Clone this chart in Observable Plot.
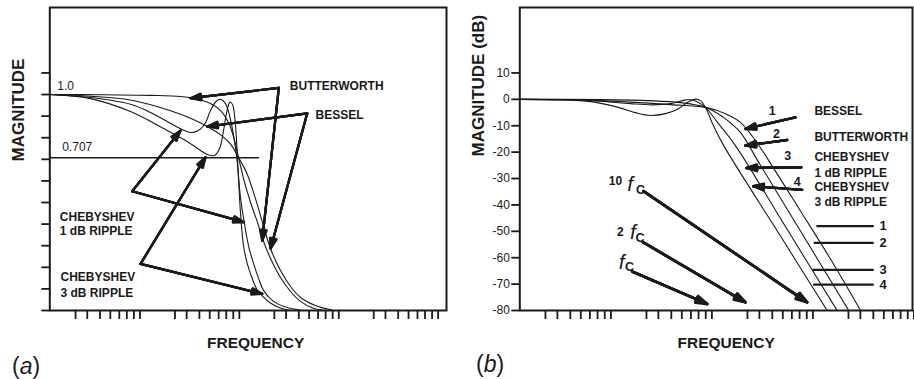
<!DOCTYPE html>
<html><head><meta charset="utf-8">
<script src="https://cdn.jsdelivr.net/npm/d3@7"></script>
<script src="https://cdn.jsdelivr.net/npm/@observablehq/plot@0.6"></script>
<style>
html,body{margin:0;padding:0;background:#fff;}
#wrap{position:relative;width:914px;height:379px;display:flex;font-family:"Liberation Sans",Arial,Helvetica,sans-serif;overflow:hidden;}
#wrap svg{display:block;flex:0 0 auto;}
.panel{position:absolute;font-size:23px;line-height:23px;color:#1a1a1a;}
</style></head><body>
<div id="wrap"></div>
<script>
// ---------- axes (x = log-frequency in decades; minor ticks as drawn) ----------
const decades = [0, 1, 2, 3];
const tickFrac = [0, 0.118, 0.246, 0.35, 0.44, 0.516, 0.587, 0.648];
const xTicks = decades.flatMap(d => tickFrac.map(f => d + f));
const magTicks = [0, 0.1, 0.2, 0.3, 0.4, 0.5, 0.6, 0.7, 0.8, 0.9, 1.0, 1.1];
const dbTicks = [10, 0, -10, -20, -30, -40, -50, -60, -70, -80];

// ---------- panel (a): linear magnitude ----------
const butterA = [[-0.262,1.0],[0.252,0.999],[0.755,0.996],[1.056,0.991],[1.207,0.981],[1.358,0.958],[1.459,0.926],[1.539,0.87],[1.6,0.787],[1.64,0.708],[1.69,0.611],[1.761,0.5],[1.831,0.407],[1.881,0.333],[1.962,0.241],[2.062,0.153],[2.163,0.088],[2.264,0.042],[2.384,0.012],[2.515,0]];
const besselA = [[-0.262,1.0],[0.151,0.992],[0.553,0.975],[0.956,0.925],[1.157,0.89],[1.325,0.852],[1.469,0.81],[1.56,0.77],[1.64,0.708],[1.72,0.639],[1.801,0.532],[1.881,0.407],[1.962,0.286],[2.062,0.185],[2.163,0.111],[2.264,0.06],[2.414,0.023],[2.596,0]];
const cheb1A = [[-0.262,1.0],[0.151,0.986],[0.553,0.955],[0.755,0.917],[0.976,0.861],[1.087,0.835],[1.157,0.824],[1.227,0.831],[1.298,0.861],[1.358,0.926],[1.419,0.97],[1.464,0.977],[1.509,0.958],[1.549,0.903],[1.59,0.81],[1.625,0.694],[1.66,0.52],[1.70,0.4],[1.745,0.29],[1.791,0.218],[1.84,0.15],[1.891,0.093],[1.982,0.046],[2.113,0.016],[2.284,0]];
const cheb3A = [[-0.262,1.0],[0.151,0.981],[0.553,0.921],[0.885,0.843],[1.107,0.787],[1.258,0.741],[1.338,0.72],[1.398,0.718],[1.449,0.75],[1.489,0.833],[1.524,0.926],[1.554,0.965],[1.579,0.954],[1.605,0.88],[1.625,0.741],[1.643,0.58],[1.66,0.449],[1.69,0.3],[1.727,0.218],[1.78,0.145],[1.828,0.095],[1.878,0.068],[1.96,0.035],[2.06,0.012],[2.163,0]];
const halfPower = 0.707;
const halfPowerSpan = [-0.262, 1.845];
const arrowsA = [
  {x1:2.045,y1:1.031,x2:1.157,y2:0.983},{x1:2.045,y1:1.031,x2:1.878,y2:0.324},
  {x1:2.331,y1:0.913,x2:1.325,y2:0.852},{x1:2.331,y1:0.913,x2:1.962,y2:0.286},
  {x1:0.570,y1:0.552,x2:1.056,y2:0.833},{x1:0.570,y1:0.552,x2:1.693,y2:0.409},
  {x1:0.654,y1:0.216,x2:1.308,y2:0.710},{x1:0.654,y1:0.216,x2:1.878,y2:0.077}
];
const namesA = [
  {x:2.156,y:1.038,text:"BUTTERWORTH"},{x:2.414,y:0.903,text:"BESSEL"},
  {x:-0.158,y:0.432,text:"CHEBYSHEV"},{x:-0.158,y:0.366,text:"1 dB RIPPLE"},
  {x:-0.151,y:0.154,text:"CHEBYSHEV"},{x:-0.151,y:0.082,text:"3 dB RIPPLE"}
];
const levelTextA = [{x:-0.184,y:1.037,text:"1.0"},{x:-0.134,y:0.756,text:"0.707"}];

// ---------- panel (b): magnitude in dB ----------
const besselB = [[-0.254,0],[0.347,-0.3],[0.842,-1.06],[1.238,-2.0],[1.584,-3.03],[1.782,-5.41],[1.931,-8.71],[2.079,-15.6],[2.277,-27.2],[2.525,-42.3],[2.822,-60.5],[3.12,-80]];
const butterB = [[-0.254,0],[0.545,-0.1],[1.04,-0.5],[1.337,-1.25],[1.584,-3.03],[1.752,-6.55],[1.84,-9.2],[1.931,-12.5],[2.129,-25.0],[2.525,-49.9],[3.003,-80]];
const cheb1B = [[-0.254,0],[0.248,-0.11],[0.545,-0.68],[0.842,-1.63],[1.059,-2.08],[1.238,-1.63],[1.356,-0.49],[1.416,-0.04],[1.485,-0.61],[1.584,-3.03],[1.713,-9.2],[1.881,-17.53],[2.376,-48.2],[2.888,-80]];
const cheb3B = [[-0.254,0],[0.149,-0.19],[0.446,-0.87],[0.693,-2.76],[0.891,-5.04],[1.04,-6.1],[1.188,-5.41],[1.317,-3.52],[1.416,-0.87],[1.485,0.08],[1.535,-0.49],[1.584,-3.03],[1.663,-9.96],[1.765,-17.53],[2.327,-51.8],[2.789,-80]];
const numArrowsB = [
  {x1:2.475,y1:-6.82,x2:1.98,y2:-11.2},{x1:2.393,y1:-15.4,x2:1.98,y2:-17.5},
  {x1:2.532,y1:-25.7,x2:1.99,y2:-26.0},{x1:2.541,y1:-34.3,x2:2.056,y2:-32.9}
];
const fcArrowsB = [
  {x1:0.970,y1:-34.8,x2:2.591,y2:-76.9},{x1:0.965,y1:-54.1,x2:1.98,y2:-76.9},
  {x1:0.858,y1:-65.2,x2:1.601,y2:-77.5}
];
const numTextB = [{x:2.245,y:-4.3,text:"1"},{x:2.287,y:-13.1,text:"2"},{x:2.399,y:-21.3,text:"3"},{x:2.492,y:-31.4,text:"4"}];
const namesB = [
  {x:2.663,y:-4.4,text:"BESSEL"},{x:2.663,y:-14.5,text:"BUTTERWORTH"},
  {x:2.663,y:-21.96,text:"CHEBYSHEV"},{x:2.663,y:-27.87,text:"1 dB RIPPLE"},
  {x:2.663,y:-33.32,text:"CHEBYSHEV"},{x:2.663,y:-39.0,text:"3 dB RIPPLE"}
];
const attenLevels = [-48.0, -54.4, -64.6, -70.2];
const attenStart = [2.683, 2.656, 2.644, 2.65];
const attenEnd = 3.25;
const attenLabels = ["1", "2", "3", "4"];
const attenLabelX = 3.342;
const fcMultipliers = [{x:0.693,y:-30.9,text:"10"},{x:0.741,y:-50.4,text:"2"}];
const fcF = [{x:0.838,y:-32.0},{x:0.866,y:-50.4},{x:0.754,y:-61.7}];
const fcSub = [{x:0.94,y:-34.2},{x:0.935,y:-52.6},{x:0.833,y:-63.5}];

// ---------- helpers ----------
const INK = "#1a1a1a";
const FONT = '"Liberation Sans", Arial, Helvetica, sans-serif';
const toRows = (series) => series.flatMap(([name, pts]) => pts.map(([f, v]) => ({name, f, v})));
function filledArrows(data, sw, len) {
  return [36, 27, 18, 9].map(a => Plot.arrow(data, {
    x1: "x1", y1: "y1", x2: "x2", y2: "y2",
    headAngle: a, headLength: len * 1.5 / sw, strokeWidth: sw, stroke: INK
  }));
}
const style = {fontFamily: FONT, fontSize: "12px", color: INK, background: "white", overflow: "visible"};

const tableA = toRows([["Butterworth", butterA], ["Bessel", besselA], ["Chebyshev 1 dB", cheb1A], ["Chebyshev 3 dB", cheb3A]]);
const tableB = toRows([["Bessel", besselB], ["Butterworth", butterB], ["Chebyshev 1 dB", cheb1B], ["Chebyshev 3 dB", cheb3B]]);

const left = Plot.plot({
  width: 460, height: 379,
  marginLeft: 49.3, marginRight: 14, marginTop: 7, marginBottom: 69,
  x: {domain: [-0.259, 3.732], label: null},
  y: {domain: [0, 1.403], label: null},
  style,
  marks: [
    Plot.axisY({ticks: magTicks, tickSize: 8, tickFormat: () => "", strokeWidth: 1.8, label: null}),
    Plot.axisX({ticks: xTicks, tickSize: 9, tickFormat: () => "", strokeWidth: 1.8, label: null}),
    Plot.frame({strokeWidth: 2, stroke: INK}),
    Plot.link([halfPower], {x1: () => halfPowerSpan[0], x2: () => halfPowerSpan[1], y1: d => d, y2: d => d, strokeWidth: 1.5, stroke: INK}),
    Plot.line(tableA, {x: "f", y: "v", z: "name", curve: "catmull-rom", strokeWidth: 1.1, stroke: INK, clip: true}),
    ...filledArrows(arrowsA, 2.2, 11),
    Plot.text(levelTextA, {x: "x", y: "y", text: "text", textAnchor: "start", fontSize: 12, fill: INK}),
    Plot.text(namesA, {x: "x", y: "y", text: "text", textAnchor: "start", fontSize: 12, fontWeight: "bold", fill: INK}),
    Plot.text(["MAGNITUDE"], {text: d => d, frameAnchor: "left", rotate: -90, dx: -30.8, dy: 2.5, fontSize: 17, fontWeight: "bold", fill: INK}),
    Plot.text(["FREQUENCY"], {text: d => d, frameAnchor: "bottom", dx: 7.5, dy: 37, fontSize: 15.5, fontWeight: "bold", fill: INK})
  ]
});

const attenRows = attenLevels.map((v, i) => ({y: v, x1: attenStart[i], x2: attenEnd, label: attenLabels[i], lx: attenLabelX}));

const right = Plot.plot({
  width: 454, height: 379,
  marginLeft: 59.3, marginRight: 2, marginTop: 7, marginBottom: 69,
  x: {domain: [-0.254, 3.634], label: null},
  y: {domain: [-80, 34.8], label: null},
  style,
  marks: [
    Plot.axisY({ticks: dbTicks, tickSize: 8, tickPadding: 2, tickFormat: d => String(d), strokeWidth: 1.8, fontSize: 12, label: null}),
    Plot.axisX({ticks: xTicks, tickSize: 9, tickFormat: () => "", strokeWidth: 1.8, label: null}),
    Plot.frame({strokeWidth: 2, stroke: INK}),
    Plot.line(tableB, {x: "f", y: "v", z: "name", curve: "catmull-rom", strokeWidth: 1.1, stroke: INK, clip: true}),
    ...filledArrows(numArrowsB, 2.4, 11),
    ...filledArrows(fcArrowsB, 2.6, 12),
    Plot.link(attenRows, {x1: "x1", x2: "x2", y1: "y", y2: "y", strokeWidth: 2.2, stroke: INK}),
    Plot.text(attenRows, {x: "lx", y: "y", text: "label", fontSize: 13, fontWeight: "bold", fill: INK}),
    Plot.text(numTextB, {x: "x", y: "y", text: "text", fontSize: 12.5, fontWeight: "bold", fill: INK}),
    Plot.text(namesB, {x: "x", y: "y", text: "text", textAnchor: "start", fontSize: 12, fontWeight: "bold", fill: INK}),
    Plot.text(fcMultipliers, {x: "x", y: "y", text: "text", fontSize: 12, fontWeight: "bold", fill: INK}),
    Plot.text(fcF, {x: "x", y: "y", text: () => "f", fontSize: 21, fontStyle: "italic", fill: INK}),
    Plot.text(fcSub, {x: "x", y: "y", text: () => "C", fontSize: 12.5, fontWeight: "bold", fill: INK}),
    Plot.text(["MAGNITUDE (dB)"], {text: d => d, frameAnchor: "left", rotate: -90, dx: -41.3, dy: -2.5, fontSize: 17, fontWeight: "bold", fill: INK}),
    Plot.text(["FREQUENCY"], {text: d => d, frameAnchor: "bottom", dx: 10, dy: 37, fontSize: 15.5, fontWeight: "bold", fill: INK})
  ]
});

const wrap = document.getElementById("wrap");
wrap.append(left, right);
const pa = document.createElement("div");
pa.className = "panel"; pa.style.left = "12px"; pa.style.top = "355px";
pa.innerHTML = "(<i>a</i>)";
const pb = document.createElement("div");
pb.className = "panel"; pb.style.left = "476px"; pb.style.top = "353px";
pb.innerHTML = "(<i>b</i>)";
wrap.append(pa, pb);
</script></body></html>
